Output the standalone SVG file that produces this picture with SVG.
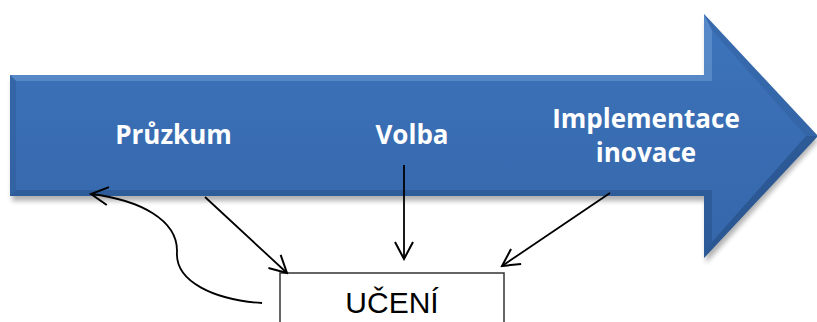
<svg xmlns="http://www.w3.org/2000/svg" width="817" height="322" viewBox="0 0 817 322">
  <defs>
    <linearGradient id="body" x1="0" y1="0" x2="0" y2="1">
      <stop offset="0" stop-color="#3d74bb"/>
      <stop offset="1" stop-color="#3566aa"/>
    </linearGradient>
    <linearGradient id="shadow" x1="0" y1="0" x2="0" y2="1">
      <stop offset="0" stop-color="#000" stop-opacity="0.35"/>
      <stop offset="1" stop-color="#000" stop-opacity="0"/>
    </linearGradient>
    <filter id="blur" x="-5%" y="-10%" width="110%" height="130%">
      <feGaussianBlur stdDeviation="2.5"/>
    </filter>
    <marker id="open" viewBox="0 0 20 20" refX="18" refY="10" markerWidth="20" markerHeight="20" markerUnits="userSpaceOnUse" orient="auto">
      <path d="M1,1 L18,10 L1,19" fill="none" stroke="#000" stroke-width="2"/>
    </marker>
    <style>
      .lbl { font-family: "Open Sans", "DejaVu Sans", sans-serif; font-weight: bold; font-size: 26px; fill: #fff; text-anchor: middle; }
      .con { fill: none; stroke: #000; stroke-width: 1.8; marker-end: url(#open); }
      .box { fill: #fff; stroke: #333; stroke-width: 1.5; }
      .boxt { font-family: "Liberation Sans", Arial, sans-serif; font-size: 30px; fill: #000; text-anchor: middle; }
    </style>
  </defs>

  <g id="process-arrow">
    <path d="M12,80 L706,80 L706,20 L818,141 L706,263 L706,201 L12,201 Z" fill="#000" opacity="0.3" filter="url(#blur)"/>
    <path d="M10,75 L704,75 L704,14 L818,136 L704,258 L704,196 L10,196 Z" fill="url(#body)"/>
    <path d="M10,75 L704,75 L704,14 L712,30 L712,81 L16,81 Z" fill="#6d9ad3" opacity="0.55"/>
    <path d="M10,196 L704,196 L704,258 L712,242 L712,190 L16,190 Z" fill="#244c82" opacity="0.45"/>
    <path d="M10,75 L16,81 L16,190 L10,196 Z" fill="#2d5b98" opacity="0.5"/>
    <path d="M704,14 L818,136 L806,136 L712,30 Z" fill="#2b5a96" opacity="0.35"/>
    <path d="M704,258 L818,136 L806,136 L712,242 Z" fill="#1f4576" opacity="0.45"/>
  </g>

  <g id="pruzkum">
    <text class="lbl" x="173.5" y="144">Průzkum</text>
  </g>
  <g id="volba">
    <text class="lbl" x="412" y="144">Volba</text>
  </g>
  <g id="implementace">
    <text class="lbl" x="646" y="128">Implementace</text>
    <text class="lbl" x="646" y="161.5">inovace</text>
  </g>

  <g id="uceni">
    <rect class="box" x="280" y="273" width="224" height="60"/>
    <text class="boxt" x="392" y="312.5">UČENÍ</text>
  </g>

  <g id="connectors">
    <path class="con" d="M262,303 C215,300 175,282 177,252 C178,220 140,200 91,194"/>
    <path class="con" d="M205,197 L287,273"/>
    <path class="con" d="M404,165 L404,259"/>
    <path class="con" d="M610,193 L502,266"/>
  </g>
</svg>
